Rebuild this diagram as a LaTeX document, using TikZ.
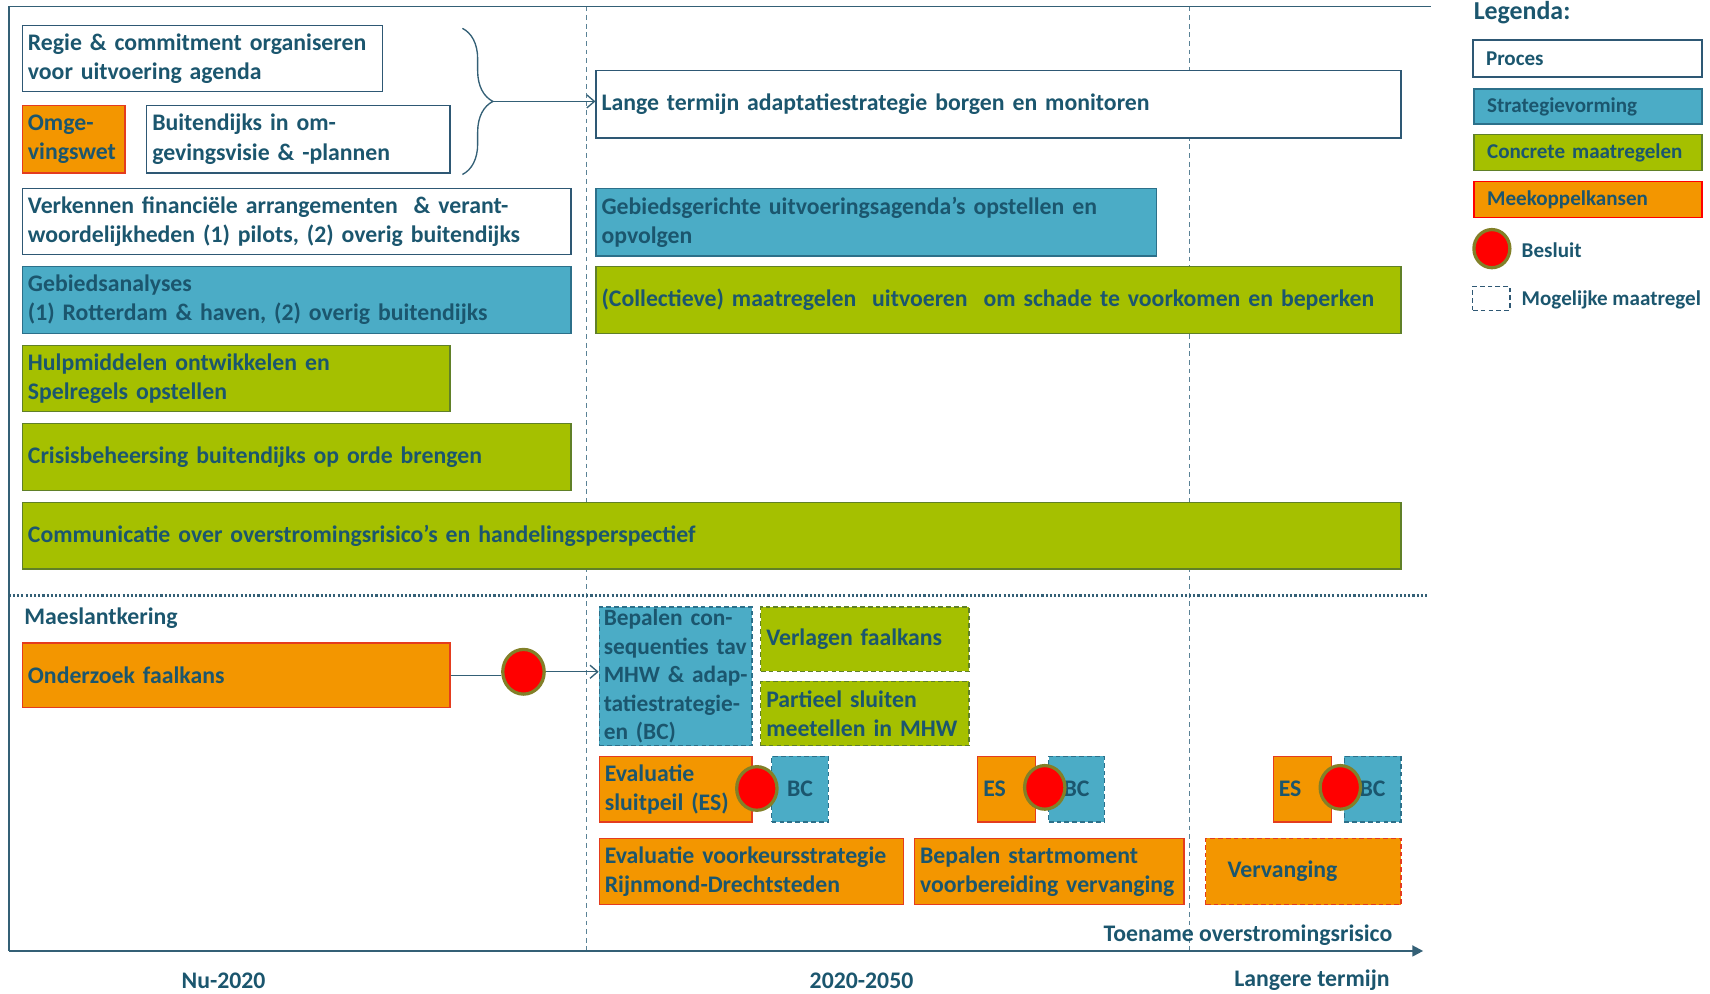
\documentclass[tikz,border=0pt]{standalone}
\usepackage{fontspec}
\setmainfont{Carlito}
\usetikzlibrary{shapes.geometric,arrows.meta,decorations.pathreplacing}
\definecolor{txt}{RGB}{27,86,110}
\definecolor{fblue}{RGB}{75,172,198}
\definecolor{dblue}{RGB}{44,112,138}
\definecolor{fgreen}{RGB}{165,192,0}
\definecolor{dgreen}{RGB}{96,128,40}
\definecolor{forange}{RGB}{243,150,0}
\definecolor{dorange}{RGB}{228,60,30}
\definecolor{framec}{RGB}{52,96,118}
\definecolor{vlinec}{RGB}{90,130,150}
\definecolor{wline}{RGB}{46,88,116}
\definecolor{olivec}{RGB}{130,128,40}
\tikzset{
  sz/.code n args={3}{%
    \pgfmathsetmacro\bxw{#1*0.02}%
    \pgfmathsetmacro\bxh{#2*0.02}%
    \pgfmathsetmacro\bxt{(#1-2*#3)*0.02}%
    \pgfmathsetmacro\bxp{#3*0.02}%
    \edef\bxtmp{\noexpand\pgfkeysalso{minimum width=\bxw cm, minimum height=\bxh cm, text width=\bxt cm, inner xsep=\bxp cm}}\bxtmp},
  box/.style={rectangle, anchor=north west, inner ysep=0pt, align=left,
    font=\fontsize{12.4}{15.2}\selectfont\bfseries, text=txt, line width=0.7pt},
  lgbox/.style={box, font=\fontsize{11}{13}\selectfont\bfseries},
  proc/.style={draw=wline, fill=white},
  strat/.style={draw=dblue, fill=fblue},
  conc/.style={draw=dgreen, fill=fgreen},
  meek/.style={draw=dorange, fill=forange},
  maybe/.style={dash pattern=on 2.5pt off 1.6pt},
  besluit/.style={ellipse, draw=olivec, line width=1.7pt, fill=red, inner sep=0pt,
    minimum width=0.74cm, minimum height=0.80cm},
  lbl/.style={inner sep=0pt, text=txt, font=\fontsize{12.4}{15.2}\selectfont\bfseries},
  conn/.style={draw=framec, line width=0.7pt},
  vdash/.style={draw=vlinec, line width=0.6pt, dash pattern=on 2.5pt off 2pt},
}
\begin{document}
\begin{tikzpicture}[x=0.02cm,y=-0.02cm]
\useasboundingbox (0,0) rectangle (1568,911);
% frame and grid
\coordinate (tl) at (8,6);
\coordinate (tr) at (1312,6);
\coordinate (bl) at (8,872);
\coordinate (br) at (1305,872);
\coordinate (d1t) at (538,6);
\coordinate (d1b) at (538,872);
\coordinate (d2t) at (1091,6);
\coordinate (d2b) at (1091,872);
\coordinate (hl) at (8,546);
\coordinate (hr) at (1310,546);
\draw[vdash] (d1t) -- (d1b);
\draw[vdash] (d2t) -- (d2b);
\draw[framec, line width=0.9pt] (tr) -- (tl) -- (bl);
\draw[framec, line width=1.1pt, -{Triangle[length=0.2cm,width=0.2cm]}] (bl) -- (br);
\draw[framec, line width=1.4pt, dash pattern=on 1.1pt off 1.1pt] (hl) -- (hr);

% upper part
\node[box, proc, sz={330}{60}{5}] (regie) at (20,23) {Regie \& commitment organiseren\\voor uitvoering agenda};
\node[box, meek, sz={94}{62}{5}] (omge) at (20,96) {Omge-\\vingswet};
\node[box, proc, sz={278}{62}{5}] (buiten) at (134,96) {Buitendijks in om-\\gevingsvisie \& -plannen};
\node[box, proc, sz={738}{62}{5}] (lange) at (546,64) {Lange termijn adaptatiestrategie borgen en monitoren};
\node[box, proc, sz={503}{61}{5}] (verk) at (20,172) {Verkennen financiële arrangementen \ \& verant-\\woordelijkheden (1) pilots, (2) overig buitendijks};
\node[box, strat, sz={514}{62}{5}] (gebg) at (546,172) {Gebiedsgerichte uitvoeringsagenda’s opstellen en\\opvolgen};
\node[box, strat, sz={503}{61}{5}] (geba) at (20,244) {Gebiedsanalyses\\(1) Rotterdam \& haven, (2) overig buitendijks};
\node[box, conc, sz={738}{61}{5}] (coll) at (546,244) {(Collectieve) maatregelen \ uitvoeren \ om schade te voorkomen en beperken};
\node[box, conc, sz={392}{61}{5}] (hulp) at (20,316) {Hulpmiddelen ontwikkelen en\\Spelregels opstellen};
\node[box, conc, sz={503}{61}{5}] (cris) at (20,388) {Crisisbeheersing buitendijks op orde brengen};
\node[box, conc, sz={1264}{61}{5}] (comm) at (20,460) {Communicatie over overstromingsrisico’s en handelingsperspectief};

% brace + arrow
\coordinate (bra) at (424,26);
\coordinate (brb) at (424,160);
\coordinate (brtip) at (452,93);
\draw[framec, line width=0.7pt, decorate, decoration={brace, amplitude=0.56cm}] (bra) -- (brb);
\draw[conn, -{Straight Barb[length=0.14cm,width=0.24cm]}] (brtip) -- (brtip -| lange.west);

% Maeslantkering
\node[lbl, anchor=west] (maes) at (22,567) {Maeslantkering};
\node[box, meek, sz={392}{59}{5}] (onder) at (20,589) {Onderzoek faalkans};
\node[box, strat, maybe, sz={140}{127}{4}, font=\fontsize{12.2}{14.9}\selectfont\bfseries] (bepc) at (549,556) {Bepalen~con-\\sequenties~tav\\MHW~\&~adap-\\tatiestrategie-\\en~(BC)};
\node[box, conc, maybe, sz={191}{59}{5}] (verl) at (697,556) {Verlagen faalkans};
\node[box, conc, maybe, sz={191}{59}{5}] (part) at (697,624) {Partieel sluiten\\meetellen in MHW};
\node[box, meek, sz={140}{60}{5}] (evs) at (549,693) {Evaluatie\\sluitpeil (ES)};
\node[box, strat, maybe, align=center, sz={52}{60}{2}] (bc1) at (707,693) {BC};
\node[box, meek, sz={53}{60}{5}] (es2) at (896,693) {ES};
\node[box, strat, maybe, align=center, sz={51}{60}{2}] (bc2) at (961,693) {BC};
\node[box, meek, sz={53}{60}{5}] (es3) at (1167,693) {ES};
\node[box, strat, maybe, align=center, sz={52}{60}{2}] (bc3) at (1232,693) {BC};
\node[box, meek, sz={279}{61}{5}] (evv) at (549,768) {Evaluatie voorkeursstrategie\\Rijnmond-Drechtsteden};
\node[box, meek, sz={247}{61}{5}] (bsm) at (838,768) {Bepalen startmoment\\voorbereiding vervanging};
\node[box, meek, maybe, sz={179}{61}{20}] (verv) at (1105,768) {Vervanging};

\node[besluit, minimum width=0.76cm, minimum height=0.82cm] (bes1) at (480,616) {};
\node[besluit] (bes2) at (694,723) {};
\node[besluit] (bes3) at (958,722) {};
\node[besluit] (bes4) at (1229,722) {};
\draw[conn] (onder.east) -- (onder.east -| bes1.west);
\draw[conn, -{Straight Barb[length=0.14cm,width=0.24cm]}] (bes1.east) -- (bes1.east -| bepc.west);

% axis labels
\node[lbl, anchor=base east] (toen) at (1277,863) {Toename overstromingsrisico};
\node[lbl] (nu) at (205,899) {Nu-2020};
\node[lbl] (mid) at (790,899) {2020-2050};
\node[lbl] (lang) at (1203,899) {Langere termijn};

% legend
\node[lbl, anchor=west, font=\fontsize{13.5}{16}\selectfont\bfseries] (legt) at (1351,12) {Legenda:};
\node[lgbox, proc, sz={210}{34}{12}] (lp) at (1350,36) {Proces};
\node[lgbox, strat, sz={209}{32}{12}] (ls) at (1351,81) {Strategievorming};
\node[lgbox, conc, sz={209}{33}{12}] (lc) at (1351,123) {Concrete maatregelen};
\node[lgbox, draw=red, fill=forange, sz={209}{33}{12}] (lm) at (1351,166) {Meekoppelkansen};
\node[besluit, minimum width=0.66cm, minimum height=0.70cm] (lb) at (1368,228) {};
\node[lbl, anchor=west, font=\fontsize{11}{13}\selectfont\bfseries] (lbt) at (1395,229) {Besluit};
\node[draw=wline, fill=white, maybe, line width=0.6pt, minimum width=0.68cm, minimum height=0.44cm, inner sep=0pt, anchor=north west] (ld) at (1350,262) {};
\node[lbl, anchor=west, font=\fontsize{11}{13}\selectfont\bfseries] (ldt) at (1395,275) {Mogelijke maatregel};
\end{tikzpicture}
\end{document}
